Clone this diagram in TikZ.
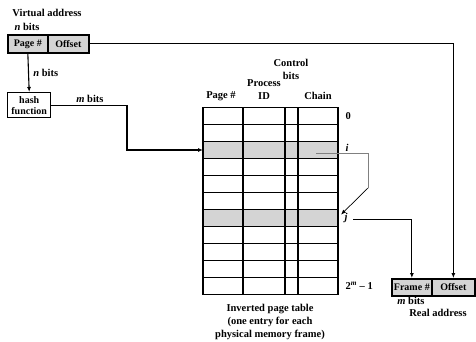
\documentclass[tikz,border=0pt]{standalone}
\usepackage{fontspec}
\setmainfont{Liberation Serif}
\usetikzlibrary{arrows.meta,positioning,math}
\definecolor{cellgray}{RGB}{212,212,212}

\begin{document}
\begin{tikzpicture}[x=1pt,y=-1pt,
  font=\bfseries\fontsize{10.5}{13}\selectfont,
  field/.style={draw,line width=1.7pt,fill=cellgray,inner sep=0pt,minimum height=17pt,anchor=north west,
    font=\bfseries\fontsize{10}{12}\selectfont},
  grid/.style={line width=1.2pt},
  link/.style={line width=1.1pt,-{Latex[length=5pt,width=4pt]}}]
\tikzmath{
\rh=17;
\ty=107.5;
}
\useasboundingbox (0,0) rectangle (476,342);

% virtual address
\node[anchor=center] (va) at (47,13) {Virtual address};
\node (vbits) at (27,27) {\textit{n} bits};
\node[field,minimum width=40pt,minimum height=18pt] (page) at (7,34) {Page \#};
\node[field,minimum width=41pt,minimum height=18pt] (off) at (47,34) {Offset};
\node[field,fill=white,line width=1.4pt,minimum width=43pt,minimum height=25pt,align=center,
  font=\bfseries\fontsize{10}{11}\selectfont] (hash) at (7,92) {hash\\function};

% inverted page table
\fill[cellgray] (203,\ty+2*\rh) rectangle (338,\ty+3*\rh);
\fill[cellgray] (203,\ty+6*\rh) rectangle (338,\ty+7*\rh);
\foreach \r in {0,...,11}
  \draw[grid] (203,\ty+\r*\rh) -- (338,\ty+\r*\rh);
\foreach \c in {203,243,285,298,338}
  \draw[grid] (\c,\ty) -- (\c,\ty+11*\rh);
\coordinate (rowi) at (203,\ty+2.5*\rh);
\coordinate (chaini) at (316,\ty+2.7*\rh);
\coordinate (bend) at (368,188);
\coordinate (rowj) at (341,\ty+6.3*\rh);
\coordinate (chainj) at (353,\ty+6.6*\rh);

\node (hpage) at (221,96) {Page \#};
\node[align=center] (hpid) at (264,89.5) {Process\\ID};
\node[align=center] (hctl) at (291,69.5) {Control\\bits};
\node (hchain) at (318,96) {Chain};
\node[anchor=west] (l0) at (342,116) {0};
\node[anchor=west] (li) at (342,148) {\textit{i}};
\node[anchor=west] (lj) at (341,218) {\textit{j}};
\node[anchor=west] (lm) at (342,286) {2\textsuperscript{\textit{m}} -- 1};
\node[align=center] (cap) at (270,321.5) {Inverted page table\\(one entry for each\\physical memory frame)};

% real address
\node[field,minimum width=40pt,minimum height=17pt] (frame) at (391,278) {Frame \#};
\node[field,minimum width=43pt,minimum height=17pt] (roff) at (431,278) {Offset};
\node (rbits) at (411,301) {\textit{m} bits};
\node (ra) at (438,313) {Real address};

% connectors
\draw[link,line width=0.8pt] (off.east) -| (roff.north);
\draw[link] (page.south) -- (hash.north) node[midway,right=1pt] {\textit{n} bits};
\draw[link] (hash.east) -| (127,\ty+2.5*\rh) -- (rowi);
\node (hbits) at (90,99) {\textit{m} bits};
\draw[gray,line width=0.9pt] (chaini) -| (bend);
\draw[-{Latex[length=5pt,width=4pt]},line width=0.7pt] (bend) -- (rowj);
\draw[link,line width=0.9pt] (chainj) -| (frame.north);
\end{tikzpicture}
\end{document}
